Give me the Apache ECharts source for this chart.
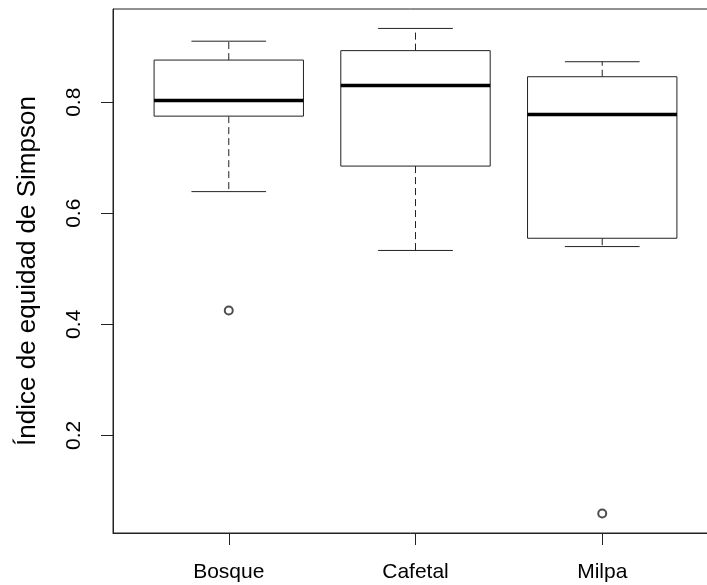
<!DOCTYPE html>
<html>
<head>
<meta charset="utf-8">
<script src="https://cdn.jsdelivr.net/npm/echarts@6/dist/echarts.min.js"></script>
<style>
  html, body { margin: 0; padding: 0; background: #fff; }
  #chart { width: 707px; height: 585px; }
</style>
</head>
<body>
<div id="chart"></div>
<script>
// boxplot stats
const categories = ['Bosque', 'Cafetal', 'Milpa']
const whiskerLow = [0.639, 0.533, 0.540]
const q1 = [0.775, 0.685, 0.555]
const median = [0.803, 0.830, 0.778]
const q3 = [0.876, 0.893, 0.846]
const whiskerHigh = [0.910, 0.933, 0.873]
// outliers: [category index (1-based), value]
const outliers = [[1, 0.425], [3, 0.059]]
const yTicks = [0.2, 0.4, 0.6, 0.8]

const chart = echarts.init(document.getElementById('chart'))
const font = 'Liberation Sans, Arial, sans-serif'

const boxData = categories.map((c, i) => [i + 1, whiskerLow[i], q1[i], median[i], q3[i], whiskerHigh[i]])

const renderBox = (params, api) => {
  const x = api.value(0)
  const lo = api.value(1), b1 = api.value(2), md = api.value(3), b3 = api.value(4), hi = api.value(5)
  const p = (xv, yv) => api.coord([xv, yv])
  const tl = p(x - 0.4, b3), br = p(x + 0.4, b1)
  const line = (a, b, style) => ({ type: 'line', shape: { x1: a[0], y1: a[1], x2: b[0], y2: b[1] }, style })
  const solid = { stroke: '#222', lineWidth: 1 }
  const dashed = { stroke: '#222', lineWidth: 1, lineDash: [7, 4] }
  return {
    type: 'group',
    children: [
      line(p(x, b3), p(x, hi), dashed),
      line(p(x, b1), p(x, lo), dashed),
      line(p(x - 0.2, hi), p(x + 0.2, hi), solid),
      line(p(x - 0.2, lo), p(x + 0.2, lo), solid),
      { type: 'rect', shape: { x: tl[0], y: tl[1], width: br[0] - tl[0], height: br[1] - tl[1] },
        style: { fill: '#fff', stroke: '#222', lineWidth: 1 } },
      line(p(x - 0.4, md), p(x + 0.4, md), { stroke: '#000', lineWidth: 3.5 })
    ]
  }
}

const option = {
  animation: false,
  grid: {
    left: 113, top: 9, width: 605, height: 524,
    outerBoundsMode: 'none',
    show: true, borderColor: '#222', borderWidth: 1
  },
  xAxis: {
    type: 'value',
    min: 0.38,
    max: 3.62,
    splitLine: { show: false },
    axisLine: { lineStyle: { color: '#222' } },
    axisTick: { customValues: [1, 2, 3], length: 12, lineStyle: { color: '#222' } },
    axisLabel: {
      customValues: [1, 2, 3],
      formatter: (v) => categories[Math.round(v) - 1],
      color: '#000', fontSize: 21, fontFamily: font, margin: 29
    }
  },
  yAxis: {
    type: 'value',
    min: 0.024,
    max: 0.968,
    name: 'Índice de equidad de Simpson',
    nameLocation: 'middle',
    nameGap: 72,
    nameRotate: 90,
    nameTextStyle: { color: '#000', fontSize: 26, fontFamily: font },
    splitLine: { show: false },
    axisLine: { lineStyle: { color: '#222' } },
    axisTick: { customValues: yTicks, length: 12, lineStyle: { color: '#222' } },
    axisLabel: {
      customValues: yTicks,
      rotate: 90,
      formatter: (v) => v.toFixed(1),
      color: '#000', fontSize: 21, fontFamily: font, margin: 28
    }
  },
  series: [
    {
      type: 'custom',
      renderItem: renderBox,
      data: boxData,
      encode: { x: 0, y: [1, 2, 3, 4, 5] },
      z: 2
    },
    {
      type: 'scatter',
      data: outliers,
      symbol: 'emptyCircle',
      symbolSize: 8,
      itemStyle: { color: '#222', borderColor: '#222', borderWidth: 1 },
      z: 3
    }
  ]
}
chart.setOption(option)
</script>
</body>
</html>
